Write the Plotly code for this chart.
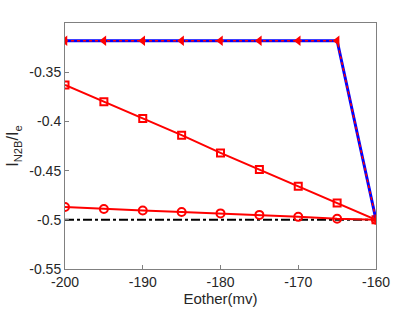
import plotly.graph_objects as go

x_vals = [-200, -195, -190, -185, -180, -175, -170, -165, -160]
tri_vals = [-0.318, -0.318, -0.318, -0.318, -0.318, -0.318, -0.318, -0.318, -0.5]
sq_vals = [-0.363, -0.380, -0.397, -0.414, -0.432, -0.449, -0.466, -0.483, -0.500]
circ_vals = [-0.487, -0.489, -0.4905, -0.492, -0.4935, -0.495, -0.497, -0.499, -0.500]
ref_x = [-200, -160]
ref_vals = [-0.5, -0.5]
x_ticks = [-200, -190, -180, -170, -160]
x_tick_labels = ["-200", "-190", "-180", "-170", "-160"]
y_ticks = [-0.55, -0.5, -0.45, -0.4, -0.35]
y_tick_labels = ["-0.55", "-0.5", "-0.45", "-0.4", "-0.35"]

RED = "#ff0000"
BLUE = "#0000ff"

fig = go.Figure()
fig.add_trace(go.Scatter(x=ref_x, y=ref_vals, mode="lines",
                         line=dict(color="black", width=2, dash="dashdot"),
                         showlegend=False))
fig.add_trace(go.Scatter(x=x_vals, y=circ_vals, mode="lines+markers",
                         line=dict(color=RED, width=2),
                         marker=dict(symbol="circle-open", size=8, color=RED, line=dict(width=2)),
                         showlegend=False))
fig.add_trace(go.Scatter(x=x_vals, y=sq_vals, mode="lines+markers",
                         line=dict(color=RED, width=2),
                         marker=dict(symbol="square-open", size=7, color=RED, line=dict(width=2)),
                         showlegend=False))
fig.add_trace(go.Scatter(x=x_vals, y=tri_vals, mode="lines",
                         line=dict(color=BLUE, width=3),
                         showlegend=False))
fig.add_trace(go.Scatter(x=x_vals, y=tri_vals, mode="lines+markers",
                         line=dict(color=RED, width=1.5, dash="dot"),
                         marker=dict(symbol="triangle-left", size=9, color=RED),
                         showlegend=False))

axis_common = dict(showline=True, mirror=True, linecolor="#808080", linewidth=1,
                   ticks="inside", ticklen=4, tickcolor="#808080",
                   showgrid=False, zeroline=False, automargin=False,
                   tickfont=dict(family="Liberation Sans, Arial", size=14, color="#262626"))

fig.update_layout(
    width=415, height=312,
    margin=dict(l=65, r=39, t=23, b=43),
    paper_bgcolor="white", plot_bgcolor="white",
    font=dict(family="Liberation Sans, Arial", size=14, color="#262626"),
    xaxis=dict(range=[-200, -160], tickvals=x_ticks, ticktext=x_tick_labels,
               title=dict(text="Eother(mv)", standoff=2, font=dict(size=15)), **axis_common),
    yaxis=dict(range=[-0.55, -0.30], tickvals=y_ticks, ticktext=y_tick_labels,
               title=dict(text="I<sub>N2B</sub>/I<sub>e</sub>", standoff=6, font=dict(size=16)),
               **axis_common),
)

fig.write_html("out.html", config={"displayModeBar": False},
               post_script="document.body.style.margin='0';document.body.style.overflow='hidden';")
